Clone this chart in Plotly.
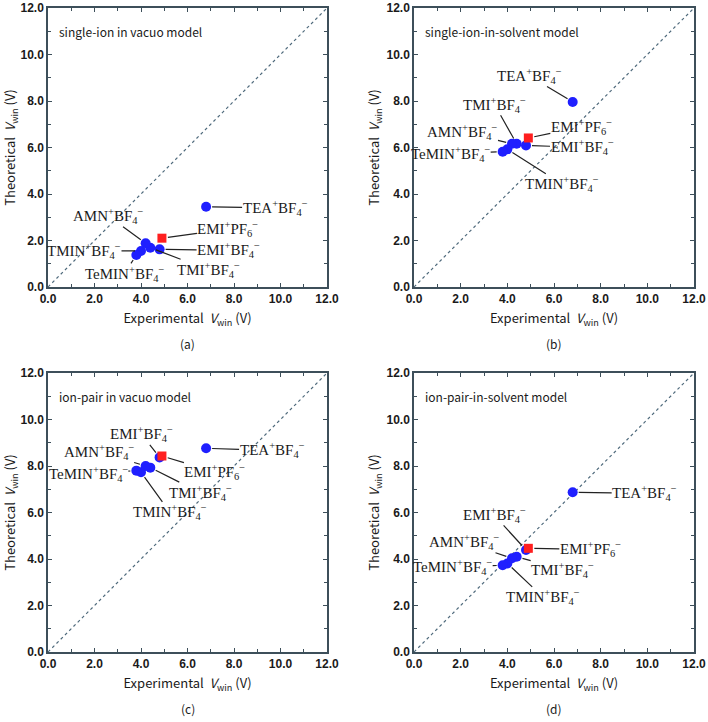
import plotly.graph_objects as go

# ---------------- data ----------------
compounds = ["TEA", "EMI_PF6", "EMI_BF4", "TMI", "AMN", "TMIN", "TeMIN"]
label_texts = [
    "TEA<sup>+</sup>BF<sub>4</sub><sup>−</sup>",
    "EMI<sup>+</sup>PF<sub>6</sub><sup>−</sup>",
    "EMI<sup>+</sup>BF<sub>4</sub><sup>−</sup>",
    "TMI<sup>+</sup>BF<sub>4</sub><sup>−</sup>",
    "AMN<sup>+</sup>BF<sub>4</sub><sup>−</sup>",
    "TMIN<sup>+</sup>BF<sub>4</sub><sup>−</sup>",
    "TeMIN<sup>+</sup>BF<sub>4</sub><sup>−</sup>",
]
experimental = [6.8, 4.9, 4.8, 4.4, 4.2, 4.0, 3.8]
theoretical_a = [3.45, 2.10, 1.62, 1.69, 1.88, 1.55, 1.38]   # single-ion in vacuo
theoretical_b = [7.96, 6.41, 6.09, 6.16, 6.16, 5.92, 5.82]   # single-ion-in-solvent
theoretical_c = [8.76, 8.43, 8.37, 7.93, 8.00, 7.73, 7.80]   # ion-pair in vacuo
theoretical_d = [6.87, 4.46, 4.39, 4.10, 4.03, 3.81, 3.73]   # ion-pair-in-solvent
panel_titles = ["single-ion in vacuo model", "single-ion-in-solvent model",
                "ion-pair in vacuo model", "ion-pair-in-solvent model"]
panel_tags = ["(a)", "(b)", "(c)", "(d)"]
tick_values = [0, 2, 4, 6, 8, 10, 12]
tick_labels = ["0.0", "2.0", "4.0", "6.0", "8.0", "10.0", "12.0"]
parity_line = [0, 12]

# ---------------- styling ----------------
W, H = 708, 722
frame = "#3d4f5a"
blue = "#1f1fff"
red = "#ff1f1f"
label_font = dict(family="Liberation Serif", size=15, color="#1a1a1a")
tick_font = dict(family="Liberation Sans", size=12, color="#1a1a1a", weight="bold")
title_font = dict(family="Noto Sans CJK JP", size=13, color="#1a1a1a")
panel_font = dict(family="Noto Sans CJK JP", size=12, color="#1a1a1a")


def px_x(p):
    return p / W


def px_y(p):
    return 1 - p / H


# pixel boxes of plots in the window (left, right, top, bottom)
boxes = [(48, 327, 8, 287), (414, 694, 8, 287), (48, 327, 373, 652), (414, 694, 373, 652)]

# label offsets (pixels) for each panel, order as compounds
offsets = [
    [(69, 1), (66, -9), (69, 1), (58, 22), (-37, -27), (-57, 0), (-12, 19)],
    [(-43, -26), (53, -11), (56, 2), (-22, -39), (-50, -12), (55, 35), (-52, 2)],
    [(66, 2), (53, 16), (-18, -23), (50, 25), (-46, -14), (29, 40), (-48, 3)],
    [(72, 1), (62, 1), (-32, -35), (46, 13), (-48, -16), (36, 34), (-50, 2)],
]

theoreticals = [theoretical_a, theoretical_b, theoretical_c, theoretical_d]

fig = go.Figure()
annotations = []
layout_axes = {}

for i in range(4):
    n = "" if i == 0 else str(i + 1)
    xr, yr = "x" + n, "y" + n
    l, r, t, b = boxes[i]
    xdom = [px_x(l), px_x(r)]
    ydom = [px_y(b), px_y(t)]
    common = dict(
        range=[0, 12], tickmode="array", tickvals=tick_values, ticktext=tick_labels,
        ticks="inside", ticklen=4, tickwidth=1, tickcolor=frame,
        showline=True, linecolor=frame, linewidth=1.5, mirror="ticks",
        showgrid=False, zeroline=False, tickfont=tick_font, automargin=False,
        ticklabeloverflow="allow",
        minor=dict(tickmode="linear", tick0=0, dtick=1, ticks="inside", ticklen=3,
                   tickcolor=frame, showgrid=False),
    )
    layout_axes["xaxis" + n] = dict(
        domain=xdom, anchor=yr,
        title=dict(text="Experimental  <i>V</i><sub>win</sub> (V)", font=title_font, standoff=9),
        **common)
    layout_axes["yaxis" + n] = dict(
        domain=ydom, anchor=xr,
        title=dict(text="Theoretical  <i>V</i><sub>win</sub> (V)", font=title_font, standoff=4),
        **common)

    theo = theoreticals[i]
    # parity line
    fig.add_trace(go.Scatter(x=parity_line, y=parity_line, mode="lines",
                             line=dict(color="#4f6a7c", width=1.2, dash="dot"),
                             xaxis=xr, yaxis=yr, hoverinfo="skip"))
    # blue circles (BF4 salts)
    bx = [experimental[k] for k in range(len(compounds)) if compounds[k] != "EMI_PF6"]
    by = [theo[k] for k in range(len(compounds)) if compounds[k] != "EMI_PF6"]
    fig.add_trace(go.Scatter(x=bx, y=by, mode="markers",
                             marker=dict(color=blue, size=10, symbol="circle"),
                             xaxis=xr, yaxis=yr))
    # red square (PF6 salt)
    rx = [experimental[k] for k in range(len(compounds)) if compounds[k] == "EMI_PF6"]
    ry = [theo[k] for k in range(len(compounds)) if compounds[k] == "EMI_PF6"]
    fig.add_trace(go.Scatter(x=rx, y=ry, mode="markers",
                             marker=dict(color=red, size=9, symbol="square"),
                             xaxis=xr, yaxis=yr))

    # labels with leader lines
    for k in range(len(compounds)):
        ax, ay = offsets[i][k]
        annotations.append(dict(
            x=experimental[k], y=theo[k], xref=xr, yref=yr,
            text=label_texts[k], font=label_font, showarrow=True,
            arrowhead=0, arrowwidth=1.2, arrowcolor="#222222",
            ax=ax, ay=ay, axref="pixel", ayref="pixel", standoff=6, borderpad=0))

    # panel title inside plot
    annotations.append(dict(
        x=px_x(l + 9), y=px_y(t + 23), xref="paper", yref="paper",
        xanchor="left", yanchor="middle", text=panel_titles[i], font=panel_font,
        showarrow=False))
    # panel tag below
    annotations.append(dict(
        x=px_x((l + r) / 2), y=px_y(b + 56), xref="paper", yref="paper",
        xanchor="center", yanchor="middle", text=panel_tags[i], font=panel_font,
        showarrow=False))

fig.update_layout(width=W, height=H, margin=dict(l=0, r=0, t=0, b=0),
                  plot_bgcolor="white", paper_bgcolor="white", showlegend=False,
                  annotations=annotations, **layout_axes)

fig.write_html("out.html", config={"displayModeBar": False},
               post_script="document.body.style.margin='0px';document.body.style.padding='0px';")
